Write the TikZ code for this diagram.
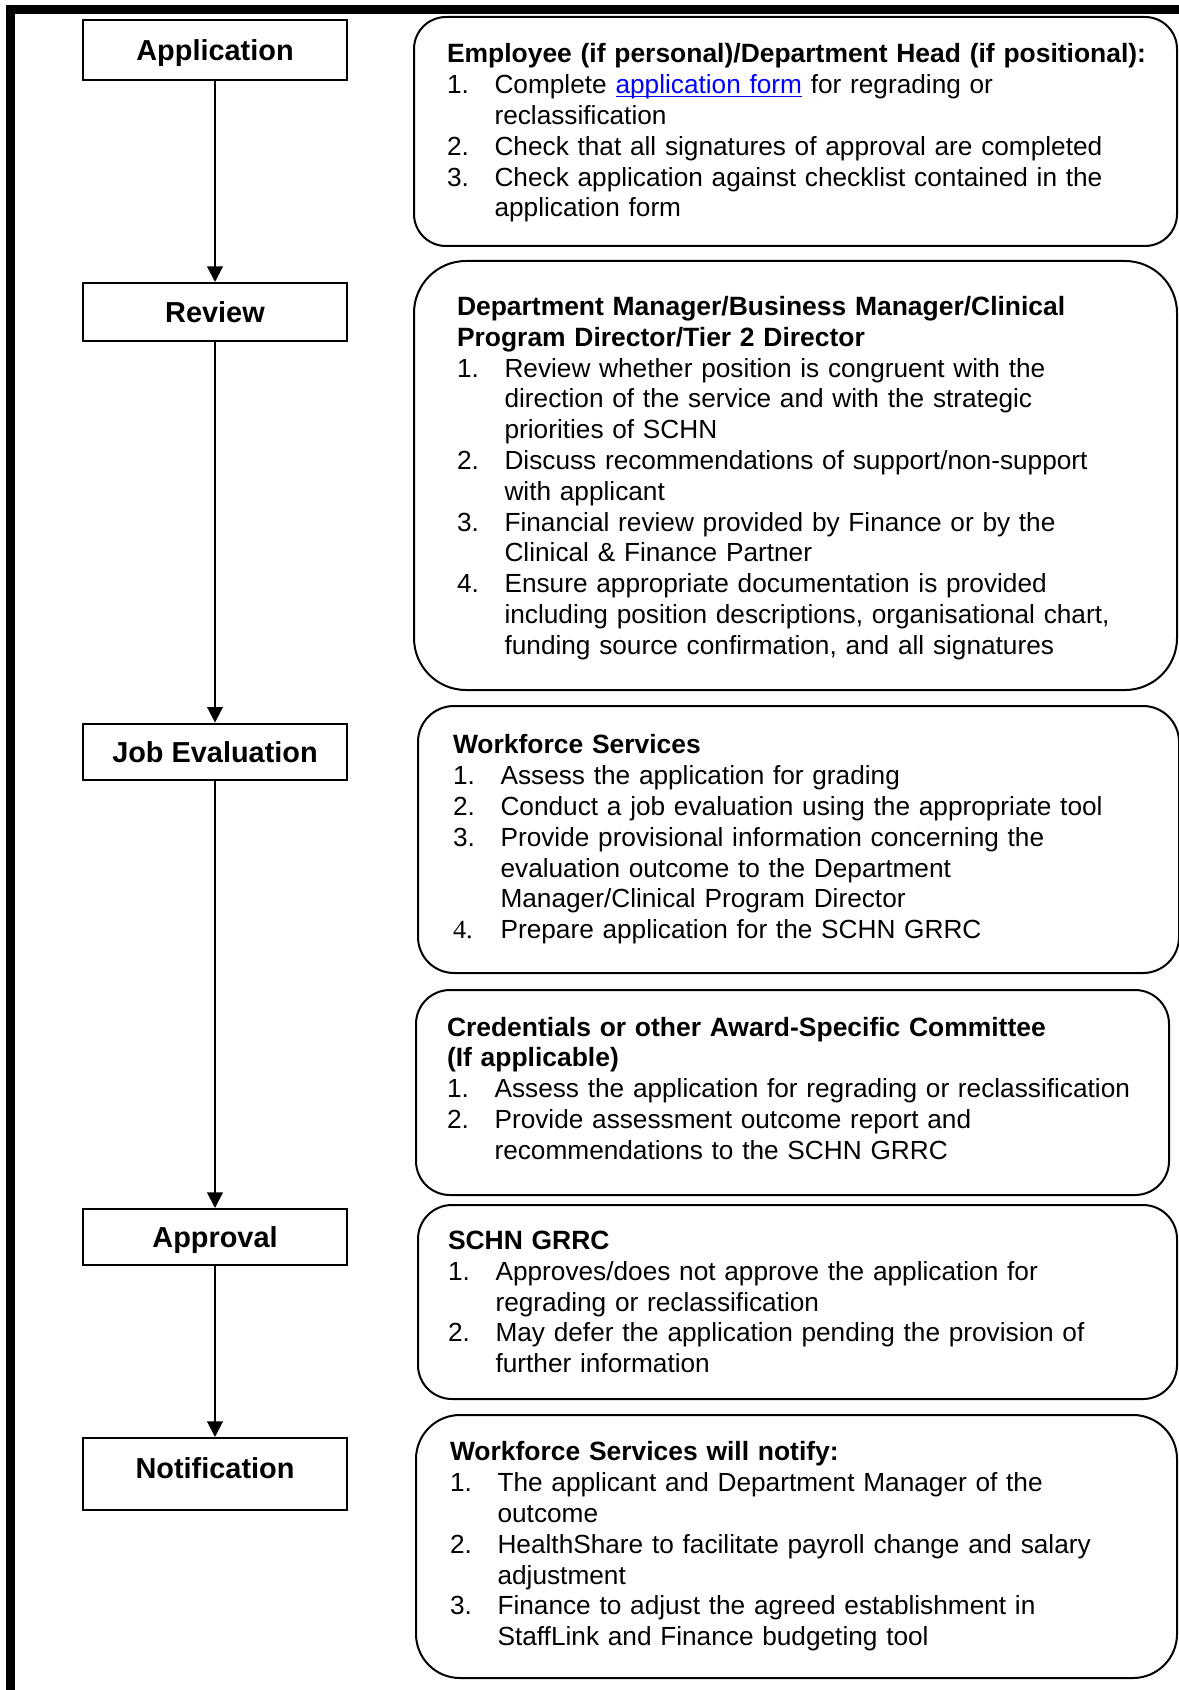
\documentclass[tikz,border=0pt]{standalone}
\usepackage{fontspec}
\setmainfont{Liberation Sans}
\newfontfamily\numserif{Liberation Serif}
\usepackage{xcolor}
\usetikzlibrary{arrows.meta}
\definecolor{linkblue}{RGB}{0,0,255}
\newcommand{\hd}[1]{\mbox{\fontsize{11.9pt}{13.86pt}\selectfont\bfseries #1}}
\newcommand{\itm}[2]{\mbox{\makebox[21.4pt][l]{#1}#2}}
\newcommand{\cnt}[1]{\mbox{\hspace{21.4pt}#1}}
\newcommand{\lnk}[1]{\textcolor{linkblue}{\setbox0\hbox{#1}\rlap{\rule[-1.4pt]{\wd0}{0.55pt}}\box0}}

\begin{document}
\begin{tikzpicture}[
  x=0.45pt, y=-0.45pt,
  stage/.style={draw,line width=0.9pt,minimum width=118.8pt,inner sep=0pt,
                font=\fontsize{13pt}{15pt}\selectfont\bfseries,
                text height=9.3pt,text depth=0pt},
  desc/.style={draw,line width=0.9pt,inner sep=0pt,align=left,
               font=\fontsize{11.8pt}{13.86pt}\selectfont},
  arr/.style={-{Triangle[length=7pt,width=7pt]},line width=0.9pt}
]
\useasboundingbox (0,0) rectangle (1179,1690);

% frame
\draw[line width=4.05pt] (10.5,1690) -- (10.5,9.5) -- (1179,9.5);

% stages
\node[stage,minimum height=27pt] (app) at (215,50) {Application};
\node[stage,minimum height=26.1pt] (rev) at (215,312) {Review};
\node[stage,minimum height=25.6pt] (jobev) at (215,752) {Job Evaluation};
\node[stage,minimum height=25.2pt] (appr) at (215,1237) {Approval};
\node[stage,minimum height=32.4pt,text depth=5.4pt] (notif) at (215,1474) {Notification};

\draw[arr] (app) -- (rev);
\draw[arr] (rev) -- (jobev);
\draw[arr] (jobev) -- (appr);
\draw[arr] (appr) -- (notif);

% descriptions
\node[desc,rounded corners=14.4pt,minimum width=343.35pt,minimum height=103.05pt,
      text width=313.65pt] (empl) at (795.5,131.5) {%
\rule{0pt}{10pt}\hd{Employee (if personal)/Department Head (if positional):}\\
\itm{1.}{Complete \lnk{application form} for regrading or}\\
\cnt{reclassification}\\
\itm{2.}{Check that all signatures of approval are completed}\\
\itm{3.}{Check application against checklist contained in the}\\
\cnt{application form}};

\node[desc,rounded corners=23.4pt,minimum width=343.35pt,minimum height=193.05pt,
      text width=304.65pt] (mgr) at (795.5,475.5) {%
\rule{0pt}{11pt}\hd{Department Manager/Business Manager/Clinical}\\
\hd{Program Director/Tier 2 Director}\\
\itm{1.}{Review whether position is congruent with the}\\
\cnt{direction of the service and with the strategic}\\
\cnt{priorities of SCHN}\\
\itm{2.}{Discuss recommendations of support/non-support}\\
\cnt{with applicant}\\
\itm{3.}{Financial review provided by Finance or by the}\\
\cnt{Clinical \& Finance Partner}\\
\itm{4.}{Ensure appropriate documentation is provided}\\
\cnt{including position descriptions, organisational chart,}\\
\cnt{funding source confirmation, and all signatures}};

\node[desc,rounded corners=16.2pt,minimum width=342.45pt,minimum height=120.15pt,
      text width=310.95pt] (wfs) at (798.5,839.5) {%
\hd{Workforce Services}\\
\itm{1.}{Assess the application for grading}\\
\itm{2.}{Conduct a job evaluation using the appropriate tool}\\
\itm{3.}{Provide provisional information concerning the}\\
\cnt{evaluation outcome to the Department}\\
\cnt{Manager/Clinical Program Director}\\
\itm{\numserif 4.}{Prepare application for the SCHN GRRC}};

\node[desc,rounded corners=15.3pt,minimum width=338.85pt,minimum height=92.25pt,
      text width=310.95pt] (cred) at (792.5,1092.5) {%
\hd{Credentials or other Award-Specific Committee}\\
\hd{(If applicable)}\\
\itm{1.}{Assess the application for regrading or reclassification}\\
\itm{2.}{Provide assessment outcome report and}\\
\cnt{recommendations to the SCHN GRRC}\rule[-4pt]{0pt}{4pt}};

\node[desc,rounded corners=15.3pt,minimum width=341.55pt,minimum height=87.3pt,
      text width=314.55pt] (grrc) at (797.5,1302) {%
\hd{SCHN GRRC}\\
\itm{1.}{Approves/does not approve the application for}\\
\cnt{regrading or reclassification}\\
\itm{2.}{May defer the application pending the provision of}\\
\cnt{further information}};

\node[desc,rounded corners=19.8pt,minimum width=342.45pt,minimum height=118.35pt,
      text width=311.85pt] (notify) at (796.5,1546.5) {%
\hd{Workforce Services will notify:}\\
\itm{1.}{The applicant and Department Manager of the}\\
\cnt{outcome}\\
\itm{2.}{HealthShare to facilitate payroll change and salary}\\
\cnt{adjustment}\\
\itm{3.}{Finance to adjust the agreed establishment in}\\
\cnt{StaffLink and Finance budgeting tool}};
\end{tikzpicture}
\end{document}
